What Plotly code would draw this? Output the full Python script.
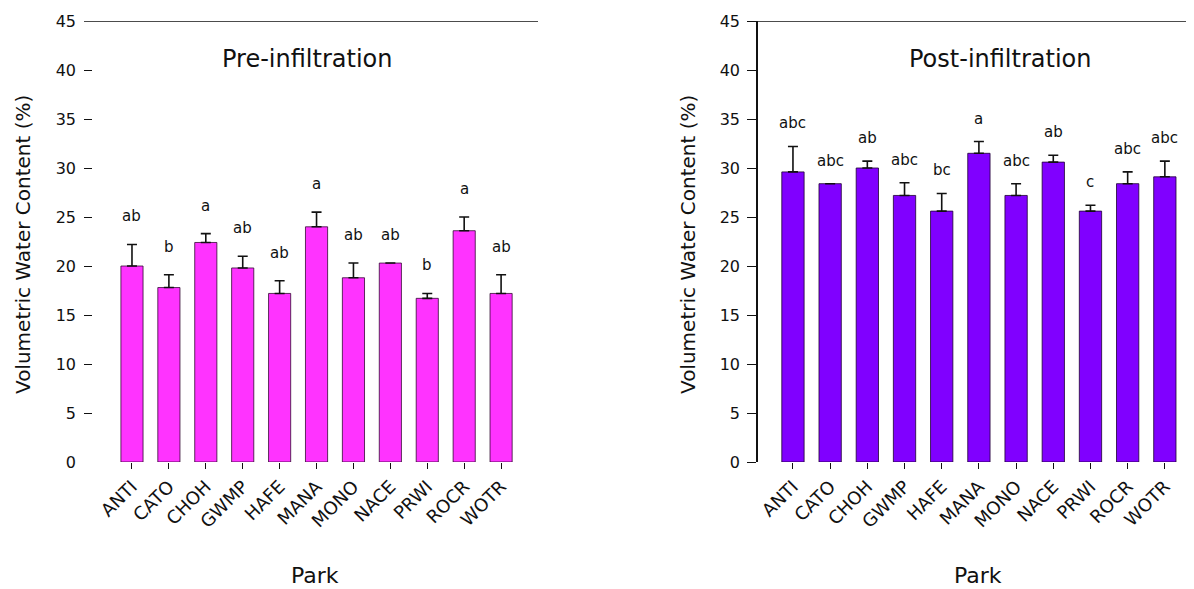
import plotly.graph_objects as go

parks = ["ANTI", "CATO", "CHOH", "GWMP", "HAFE", "MANA", "MONO", "NACE", "PRWI", "ROCR", "WOTR"]

pre_mean = [20.0, 17.8, 22.4, 19.8, 17.2, 24.0, 18.8, 20.3, 16.7, 23.6, 17.2]
pre_err = [2.2, 1.3, 0.9, 1.2, 1.3, 1.5, 1.5, 0.0, 0.5, 1.4, 1.9]
pre_letters = ["ab", "b", "a", "ab", "ab", "a", "ab", "ab", "b", "a", "ab"]

post_mean = [29.6, 28.4, 30.0, 27.2, 25.6, 31.5, 27.2, 30.6, 25.6, 28.4, 29.1]
post_err = [2.6, 0.0, 0.7, 1.3, 1.8, 1.2, 1.2, 0.7, 0.6, 1.2, 1.6]
post_letters = ["abc", "abc", "ab", "abc", "bc", "a", "abc", "ab", "c", "abc", "abc"]

y_ticks = [0, 5, 10, 15, 20, 25, 30, 35, 40, 45]

FONT = "DejaVu Sans"
TXT = "#111111"
PRE_COLOR = "#FF33FF"
POST_COLOR = "#8000FF"

# the page body adds an 8px offset at top/left: size the figure to reach the window edges
OFF = 8
W, H = 1194 - OFF, 589 - OFF


def px(x):
    return (x - OFF) / W


def py(y):
    return 1 - (y - OFF) / H


ydom = [py(462), py(21)]

fig = go.Figure()

fig.add_trace(go.Bar(
    x=list(range(len(parks))), y=pre_mean, width=0.6,
    marker=dict(color=PRE_COLOR, line=dict(color="rgba(40,0,40,0.75)", width=1)),
    error_y=dict(type="data", symmetric=False, array=pre_err,
                 arrayminus=[0] * len(parks), color="#111111", thickness=1.6, width=5),
    xaxis="x", yaxis="y", showlegend=False,
))
fig.add_trace(go.Bar(
    x=list(range(len(parks))), y=post_mean, width=0.6,
    marker=dict(color=POST_COLOR, line=dict(color="rgba(30,0,50,0.8)", width=1)),
    error_y=dict(type="data", symmetric=False, array=post_err,
                 arrayminus=[0] * len(parks), color="#111111", thickness=1.6, width=5),
    xaxis="x2", yaxis="y2", showlegend=False,
))

xcommon = dict(
    tickmode="array", tickvals=list(range(len(parks))), ticktext=parks,
    tickangle=-45, ticks="outside", ticklen=6, tickcolor="#111111", tickwidth=1,
    showline=False, showgrid=False, zeroline=False, automargin=False,
    tickfont=dict(family=FONT, size=18, color=TXT),
)
ycommon = dict(
    range=[0, 45], tickmode="array", tickvals=y_ticks,
    showgrid=False, zeroline=False, automargin=False,
    tickfont=dict(family=FONT, size=16, color=TXT), tickcolor="#111111",
)

fig.update_layout(
    width=W, height=H,
    margin=dict(l=0, r=0, t=0, b=0),
    paper_bgcolor="white", plot_bgcolor="white",
    xaxis=dict(domain=[px(84), px(538)], range=[-1.3, 11.0], anchor="y", **xcommon),
    yaxis=dict(domain=ydom, anchor="x", ticks="inside", ticklen=8, tickwidth=1.2,
               showline=False, ticklabelstandoff=7, **ycommon),
    xaxis2=dict(domain=[px(758), px(1192)], range=[-0.94, 10.73], anchor="y2", **xcommon),
    yaxis2=dict(domain=ydom, anchor="x2", ticks="outside", ticklen=9, tickwidth=1.2,
                showline=True, linecolor="#111111", linewidth=1.5, ticklabelstandoff=4, **ycommon),
)

# top frame lines at y = 45
fig.add_shape(type="line", xref="x domain", yref="y", x0=0, x1=1, y0=45, y1=45,
              line=dict(color="#111111", width=1.6))
fig.add_shape(type="line", xref="x2 domain", yref="y2", x0=0, x1=1, y0=45, y1=45,
              line=dict(color="#111111", width=1.6))

ann = []
for i, (m, e, t) in enumerate(zip(pre_mean, pre_err, pre_letters)):
    ann.append(dict(x=i, y=m + e, xref="x", yref="y", text=t, showarrow=False,
                    yanchor="bottom", yshift=17, font=dict(family=FONT, size=15, color=TXT)))
for i, (m, e, t) in enumerate(zip(post_mean, post_err, post_letters)):
    ann.append(dict(x=i, y=m + e, xref="x2", yref="y2", text=t, showarrow=False,
                    yanchor="bottom", yshift=12, font=dict(family=FONT, size=15, color=TXT)))

# panel titles
ann.append(dict(x=px(307), y=py(59), xref="paper", yref="paper", text="Pre-infiltration",
                showarrow=False, xanchor="center", yanchor="middle",
                font=dict(family=FONT, size=24, color=TXT)))
ann.append(dict(x=px(1000), y=py(59), xref="paper", yref="paper", text="Post-infiltration",
                showarrow=False, xanchor="center", yanchor="middle",
                font=dict(family=FONT, size=24, color=TXT)))
# axis titles
for xc in (23, 688):
    ann.append(dict(x=px(xc), y=py(245), xref="paper", yref="paper",
                    text="Volumetric Water Content (%)", textangle=-90, showarrow=False,
                    xanchor="center", yanchor="middle",
                    font=dict(family=FONT, size=20, color=TXT)))
for xc in (315, 978):
    ann.append(dict(x=px(xc), y=py(575), xref="paper", yref="paper", text="Park",
                    showarrow=False, xanchor="center", yanchor="middle",
                    font=dict(family=FONT, size=22, color=TXT)))

fig.update_layout(annotations=ann)

fig.write_html("out.html")
